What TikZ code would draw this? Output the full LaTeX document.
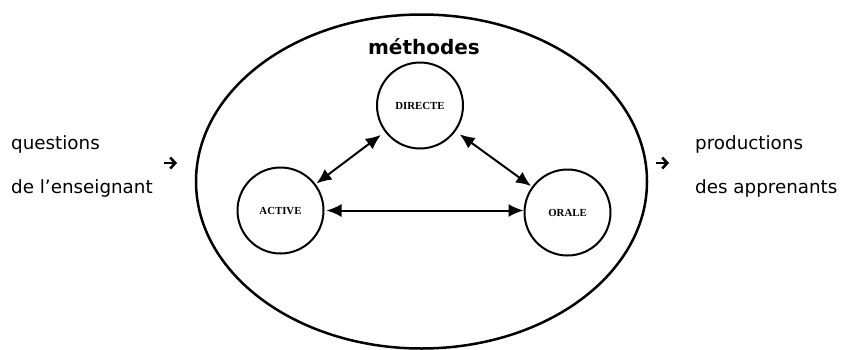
\documentclass[tikz,border=0pt]{standalone}
\usepackage{fontspec}
\setmainfont{DejaVu Sans}
\newfontfamily\methodfont{Liberation Serif}
\usetikzlibrary{arrows.meta}
\tikzset{
  method/.style={circle, draw, line width=2pt, minimum size=86pt, inner sep=0pt,
    font=\methodfont\bfseries\fontsize{10.8}{13}\selectfont},
  link/.style={line width=2pt, {Latex[length=15pt,width=13pt]}-{Latex[length=15pt,width=13pt]}},
  side/.style={anchor=base west, inner sep=0pt, font=\fontsize{18.3}{22}\selectfont},
  flow/.style={line width=2.6pt, -{Straight Barb[length=5pt,width=11pt,line width=2.6pt]}}
}
\begin{document}
\begin{tikzpicture}[x=1pt,y=-1pt]
\useasboundingbox (0,0) rectangle (843,349);
% outer ellipse grouping the methods
\draw[line width=2.5pt] (421.5,181.5) ellipse [x radius=225.5, y radius=167];
\node[inner sep=0pt, font=\bfseries\fontsize{20}{24}\selectfont] (title) at (424,47) {méthodes};
% the three methods
\node[method] (directe) at (420,105.5) {DIRECTE};
\node[method] (active) at (280.5,210.5) {ACTIVE};
\node[method] (orale) at (567.5,212.5) {ORALE};
\draw[link, shorten <=5pt, shorten >=1pt] (directe) -- (active);
\draw[link, shorten <=5pt, shorten >=1pt] (directe) -- (orale);
\draw[link, shorten <=2pt, shorten >=0pt] (active.east) -- (active.east -| orale.west);
% inputs and outputs
\node[side] (q1) at (11,149) {questions};
\node[side] (q2) at (11,193) {de l’enseignant};
\node[side] (p1) at (695,149) {productions};
\node[side] (p2) at (695,193) {des apprenants};
\coordinate (in1) at (164,163);
\coordinate (in2) at (177,163);
\coordinate (out1) at (656,163);
\coordinate (out2) at (669,163);
\draw[flow] (in1) -- (in2);
\draw[flow] (out1) -- (out2);
\end{tikzpicture}
\end{document}
